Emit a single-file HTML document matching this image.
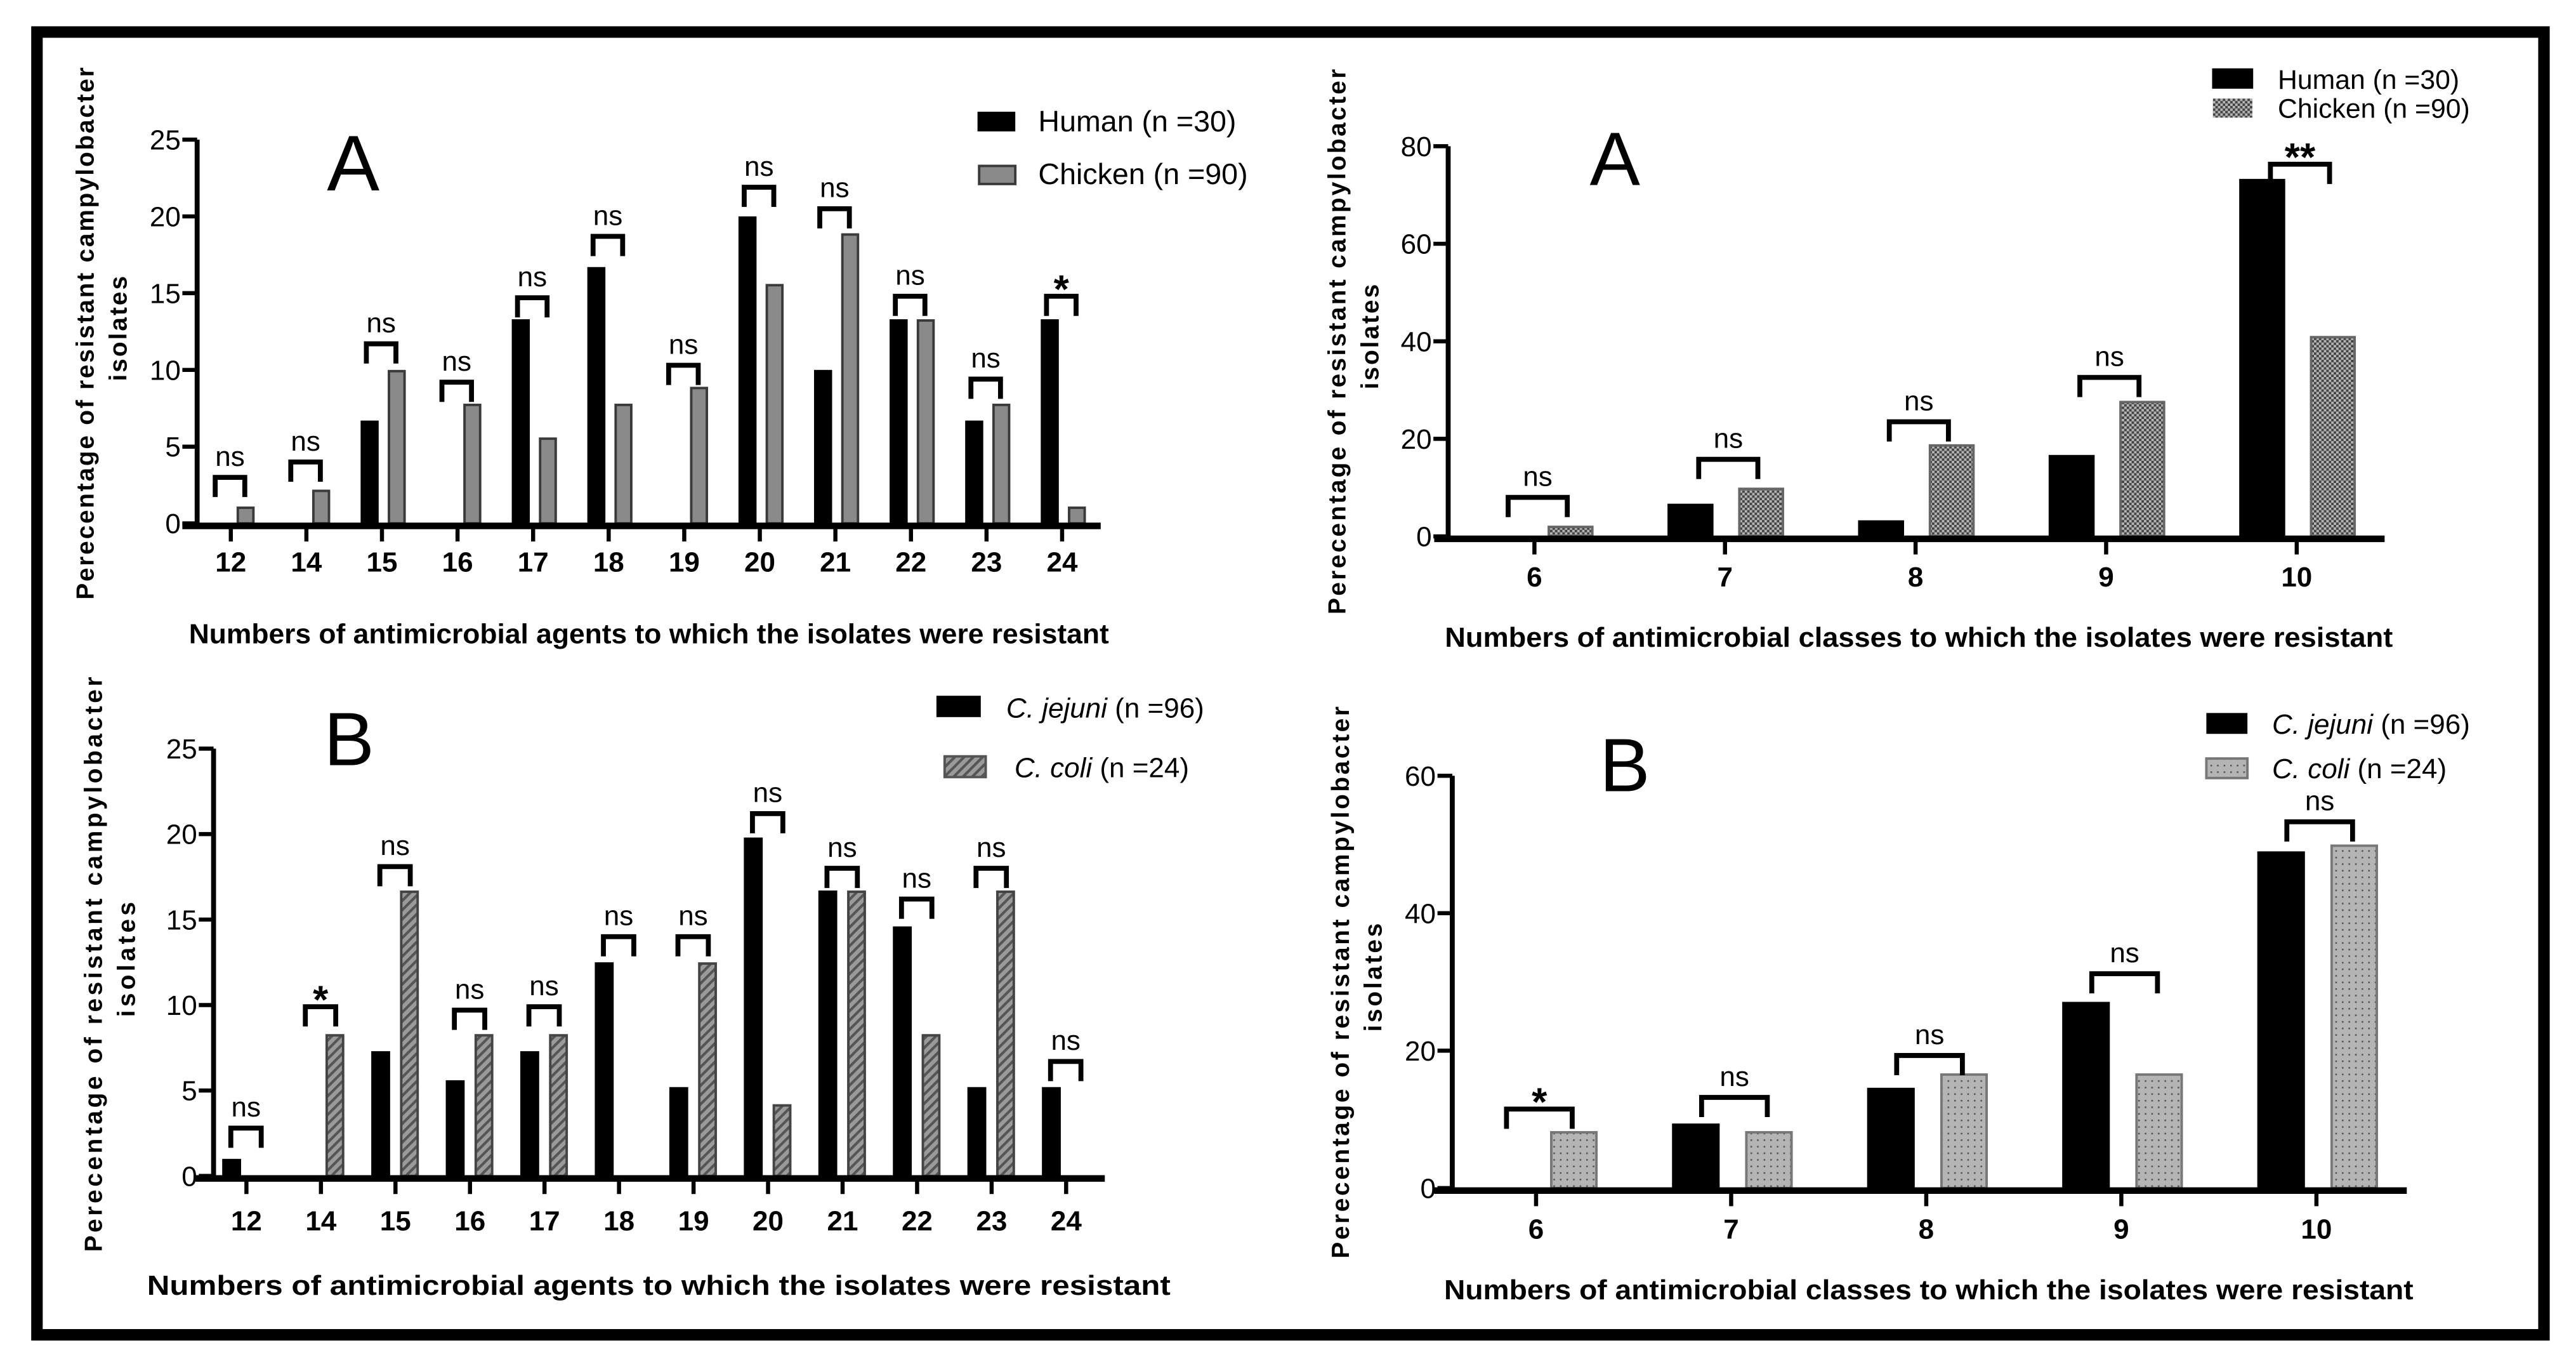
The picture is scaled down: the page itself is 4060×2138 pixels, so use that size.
<!DOCTYPE html>
<html><head><meta charset="utf-8"><style>
html,body{margin:0;padding:0;background:#fff;}
svg{display:block;}
text{font-family:"Liberation Sans Narrow","Liberation Sans",sans-serif;}
.t{font-family:"Liberation Sans",sans-serif;font-weight:bold;}
</style></head><body>
<svg id="fig" width="4060" height="2138" viewBox="0 0 1568 826" preserveAspectRatio="none" xmlns="http://www.w3.org/2000/svg">
<defs>
<pattern id="pCheck" width="3" height="3" patternUnits="userSpaceOnUse"><rect width="3" height="3" fill="#b5b5b5"/><rect width="1.5" height="1.5" fill="#444"/><rect x="1.5" y="1.5" width="1.5" height="1.5" fill="#444"/></pattern>
<pattern id="pHatch" width="4" height="4" patternUnits="userSpaceOnUse" patternTransform="rotate(45)"><rect width="4" height="4" fill="#9a9a9a"/><rect width="1.6" height="4" fill="#555"/></pattern>
<pattern id="pDots" width="4" height="4" patternUnits="userSpaceOnUse"><rect width="4" height="4" fill="#b4b4b4"/><rect x="1.5" y="1.5" width="1" height="1" fill="#555"/></pattern>
</defs>
<rect x="22.5" y="19.5" width="1526" height="793" fill="none" stroke="#000" stroke-width="7"/>

<g>
<text x="215" y="116" font-size="48" text-anchor="middle" style="font-family:'Liberation Sans',sans-serif">A</text>
<text class="t" transform="translate(57,203) rotate(-90)" text-anchor="middle" font-size="15" textLength="324" lengthAdjust="spacing">Perecentage of resistant campylobacter</text>
<text class="t" transform="translate(77,200) rotate(-90)" text-anchor="middle" font-size="15" textLength="64" lengthAdjust="spacing">isolates</text>
<text class="t" x="395" y="391.5" text-anchor="middle" font-size="17" textLength="560" lengthAdjust="spacingAndGlyphs">Numbers of antimicrobial agents to which the isolates were resistant</text>
<rect x="595" y="68" width="23" height="12" fill="#000"/>
<text x="632" y="80" font-size="18">Human (n =30)</text>
<rect x="596" y="101" width="22" height="11" fill="#8a8a8a" stroke="#3a3a3a" stroke-width="1.5"/>
<text x="632" y="112" font-size="18">Chicken (n =90)</text>
</g>

<g>
<text x="983" y="112.7" font-size="46" text-anchor="middle" style="font-family:'Liberation Sans',sans-serif">A</text>
<text class="t" transform="translate(819,208) rotate(-90)" text-anchor="middle" font-size="15" textLength="332" lengthAdjust="spacing">Perecentage of resistant campylobacter</text>
<text class="t" transform="translate(839,205) rotate(-90)" text-anchor="middle" font-size="15" textLength="64" lengthAdjust="spacing">isolates</text>
<text class="t" x="1168" y="393.6" text-anchor="middle" font-size="17" textLength="577" lengthAdjust="spacingAndGlyphs">Numbers of antimicrobial classes to which the isolates were resistant</text>
<rect x="1346.5" y="41.6" width="25" height="12.4" fill="#000"/>
<text x="1386.5" y="54" font-size="16.5">Human (n =30)</text>
<rect x="1347" y="60" width="24" height="11.6" fill="url(#pCheck)"/>
<text x="1386.5" y="71.6" font-size="16.5">Chicken (n =90)</text>
</g>

<g>
<text x="212.5" y="465.7" font-size="46" text-anchor="middle" style="font-family:'Liberation Sans',sans-serif">B</text>
<text class="t" transform="translate(62,587) rotate(-90)" text-anchor="middle" font-size="15" textLength="350" lengthAdjust="spacing">Perecentage of resistant campylobacter</text>
<text class="t" transform="translate(82,584) rotate(-90)" text-anchor="middle" font-size="15" textLength="70" lengthAdjust="spacing">isolates</text>
<text class="t" x="401" y="788.2" text-anchor="middle" font-size="17" textLength="623" lengthAdjust="spacingAndGlyphs">Numbers of antimicrobial agents to which the isolates were resistant</text>
<rect x="570" y="423.5" width="27" height="13" fill="#000"/>
<text x="612.5" y="436.7" font-size="17"><tspan font-style="italic">C. jejuni</tspan> (n =96)</text>
<rect x="575" y="460.4" width="25" height="12.6" fill="url(#pHatch)" stroke="#555" stroke-width="1.5"/>
<text x="617.5" y="473" font-size="17"><tspan font-style="italic">C. coli</tspan> (n =24)</text>
</g>

<g>
<text x="989" y="481.5" font-size="46" text-anchor="middle" style="font-family:'Liberation Sans',sans-serif">B</text>
<text class="t" transform="translate(821,598) rotate(-90)" text-anchor="middle" font-size="15" textLength="336" lengthAdjust="spacing">Perecentage of resistant campylobacter</text>
<text class="t" transform="translate(841,595) rotate(-90)" text-anchor="middle" font-size="15" textLength="66" lengthAdjust="spacing">isolates</text>
<text class="t" x="1174" y="790.8" text-anchor="middle" font-size="17" textLength="590" lengthAdjust="spacingAndGlyphs">Numbers of antimicrobial classes to which the isolates were resistant</text>
<rect x="1343" y="434" width="25" height="12.7" fill="#000"/>
<text x="1383" y="446.7" font-size="17"><tspan font-style="italic">C. jejuni</tspan> (n =96)</text>
<rect x="1343" y="461.7" width="25" height="11.9" fill="url(#pDots)" stroke="#777" stroke-width="1.5"/>
<text x="1383" y="473.6" font-size="17"><tspan font-style="italic">C. coli</tspan> (n =24)</text>
</g>
</svg>
<script>
const tlCategories = ['12','14','15','16','17','18','19','20','21','22','23','24'];
const tlHuman   = [0, 0, 6.7, 0, 13.3, 16.7, 0, 20, 10, 13.3, 6.7, 13.3];
const tlChicken = [1.1, 2.2, 10, 7.8, 5.6, 7.8, 8.9, 15.6, 18.9, 13.3, 7.8, 1.1];
const tlBracket = [3, 4, 11.7, 9.2, 14.7, 18.7, 10.3, 21.9, 20.5, 14.8, 9.4, 14.8];
const tlSig     = ['ns','ns','ns','ns','ns','ns','ns','ns','ns','ns','ns','*'];
const tlYTicks  = [0, 5, 10, 15, 20, 25];
const trCategories = ['6','7','8','9','10'];
const trHuman   = [0, 6.7, 3.3, 16.7, 73.3];
const trChicken = [2.2, 10, 18.9, 27.8, 41.1];
const trBracket = [8.0, 15.8, 23.5, 32.6, 76.3];
const trSig     = ['ns','ns','ns','ns','**'];
const trYTicks  = [0, 20, 40, 60, 80];
const blCategories = ['12','14','15','16','17','18','19','20','21','22','23','24'];
const blJejuni = [1.0, 0, 7.3, 5.6, 7.3, 12.5, 5.2, 19.8, 16.7, 14.6, 5.2, 5.2];
const blColi   = [0, 8.3, 16.7, 8.3, 8.3, 0, 12.5, 4.2, 16.7, 8.3, 16.7, 0];
const blBracket = [2.8, 9.9, 18.1, 9.7, 9.9, 14.0, 14.0, 21.2, 18.0, 16.2, 18.0, 6.7];
const blSig     = ['ns','*','ns','ns','ns','ns','ns','ns','ns','ns','ns','ns'];
const blYTicks  = [0, 5, 10, 15, 20, 25];
const brCategories = ['6','7','8','9','10'];
const brJejuni = [0, 9.4, 14.6, 27.1, 49];
const brColi   = [8.3, 8.3, 16.7, 16.7, 50];
const brBracket = [11.5, 13.2, 19.3, 31.2, 53.3];
const brSig     = ['*','ns','ns','ns','ns'];
const brYTicks  = [0, 20, 40, 60];

const NS = 'http://www.w3.org/2000/svg';
const svg = document.getElementById('fig');
function mk(tag, attrs, parent){
  const e = document.createElementNS(NS, tag);
  for (const k in attrs) e.setAttribute(k, attrs[k]);
  (parent || svg).appendChild(e);
  return e;
}

function drawChart(id, L, cats, s1, s2, brk, sig, yTicks, fill2, stroke2){
  const g = mk('g', {});
  
  
  const y = v => L.y0 - (v / L.yMax) * (L.y0 - L.yTop);
  const x = i => L.first + i * L.step;
  cats.forEach((c, i) => {
    if (s1[i] > 0) {
      const b = mk('rect', {x: x(i) + L.o1 - L.bw/2, y: y(s1[i]), width: L.bw, height: L.y0 - y(s1[i]), fill: '#000'}, g);
      
      
    }
    if (s2[i] > 0) {
      const b = mk('rect', {x: x(i) + L.o2 - L.bw/2 + 0.75, y: y(s2[i]) + 0.75, width: L.bw - 1.5, height: Math.max(0, L.y0 - y(s2[i]) - 0.75), fill: fill2, stroke: stroke2, 'stroke-width': 1.5}, g);
      
      
    }
  });
  const ya = mk('line', {x1: L.ax, y1: y(yTicks[yTicks.length-1]), x2: L.ax, y2: L.y0 + 2, stroke: '#000', 'stroke-width': 3}, g);
  
  
  const xa = mk('line', {x1: L.xl, y1: L.y0 + 1.5, x2: L.xr, y2: L.y0 + 1.5, stroke: '#000', 'stroke-width': 4}, g);
  
  
  yTicks.forEach(v => {
    const tk = mk('line', {x1: L.ax - 9, y1: y(v), x2: L.ax, y2: y(v), stroke: '#000', 'stroke-width': 2.5}, g);
    
    
    const t = mk('text', {x: L.ax - 10, y: y(v) + 6, 'text-anchor': 'end', 'font-size': 17}, g);
    t.textContent = v;
    
    
  });
  cats.forEach((c, i) => {
    const tk = mk('line', {x1: x(i), y1: L.y0 + 3, x2: x(i), y2: L.y0 + 11, stroke: '#000', 'stroke-width': 2.5}, g);
    
    
    const t = mk('text', {x: x(i), y: L.lab, 'text-anchor': 'middle', 'font-size': 17, 'font-weight': 'bold'}, g);
    t.textContent = c;
    
    
    const by = y(brk[i]);
    const xa1 = x(i) + L.b1, xa2 = x(i) + L.b2;
    const p = mk('path', {d: `M${xa1},${by + 12} V${by} H${xa2} V${by + 12}`, fill: 'none', stroke: '#000', 'stroke-width': 3}, g);
    
    
    const st = sig[i] === 'ns';
    const s = mk('text', {x: (xa1 + xa2) / 2, y: st ? by - 7 : by + 4, 'text-anchor': 'middle', 'font-size': st ? 17 : 24, 'font-weight': st ? 'normal' : 'bold'}, g);
    s.textContent = sig[i];
    
    
  });
}

drawChart('tl', {ax:120, y0:318.6, yTop:85, yMax:25, xl:111, xr:670, first:140.5, step:46, bw:11, o1:-7.5, o2:9, b1:-9.5, b2:8.5, lab:348},
  tlCategories, tlHuman, tlChicken, tlBracket, tlSig, tlYTicks, '#8a8a8a', '#3a3a3a');
drawChart('tr', {ax:881.5, y0:326.5, yTop:89, yMax:80, xl:873, xr:1451.5, first:934, step:116, bw:28, o1:-21, o2:22, b1:-16, b2:20, lab:357},
  trCategories, trHuman, trChicken, trBracket, trSig, trYTicks, 'url(#pCheck)', '#666');
drawChart('bl', {ax:130, y0:715.8, yTop:455.7, yMax:25, xl:119, xr:672.5, first:150, step:45.36, bw:11.5, o1:-9, o2:8.5, b1:-9.5, b2:9, lab:749},
  blCategories, blJejuni, blColi, blBracket, blSig, blYTicks, 'url(#pHatch)', '#444');
drawChart('br', {ax:884, y0:723.2, yTop:472.2, yMax:60, xl:873, xr:1465, first:935, step:118.75, bw:29, o1:-21.5, o2:23, b1:-18, b2:22, lab:754},
  brCategories, brJejuni, brColi, brBracket, brSig, brYTicks, 'url(#pDots)', '#777');
</script>
</body></html>
